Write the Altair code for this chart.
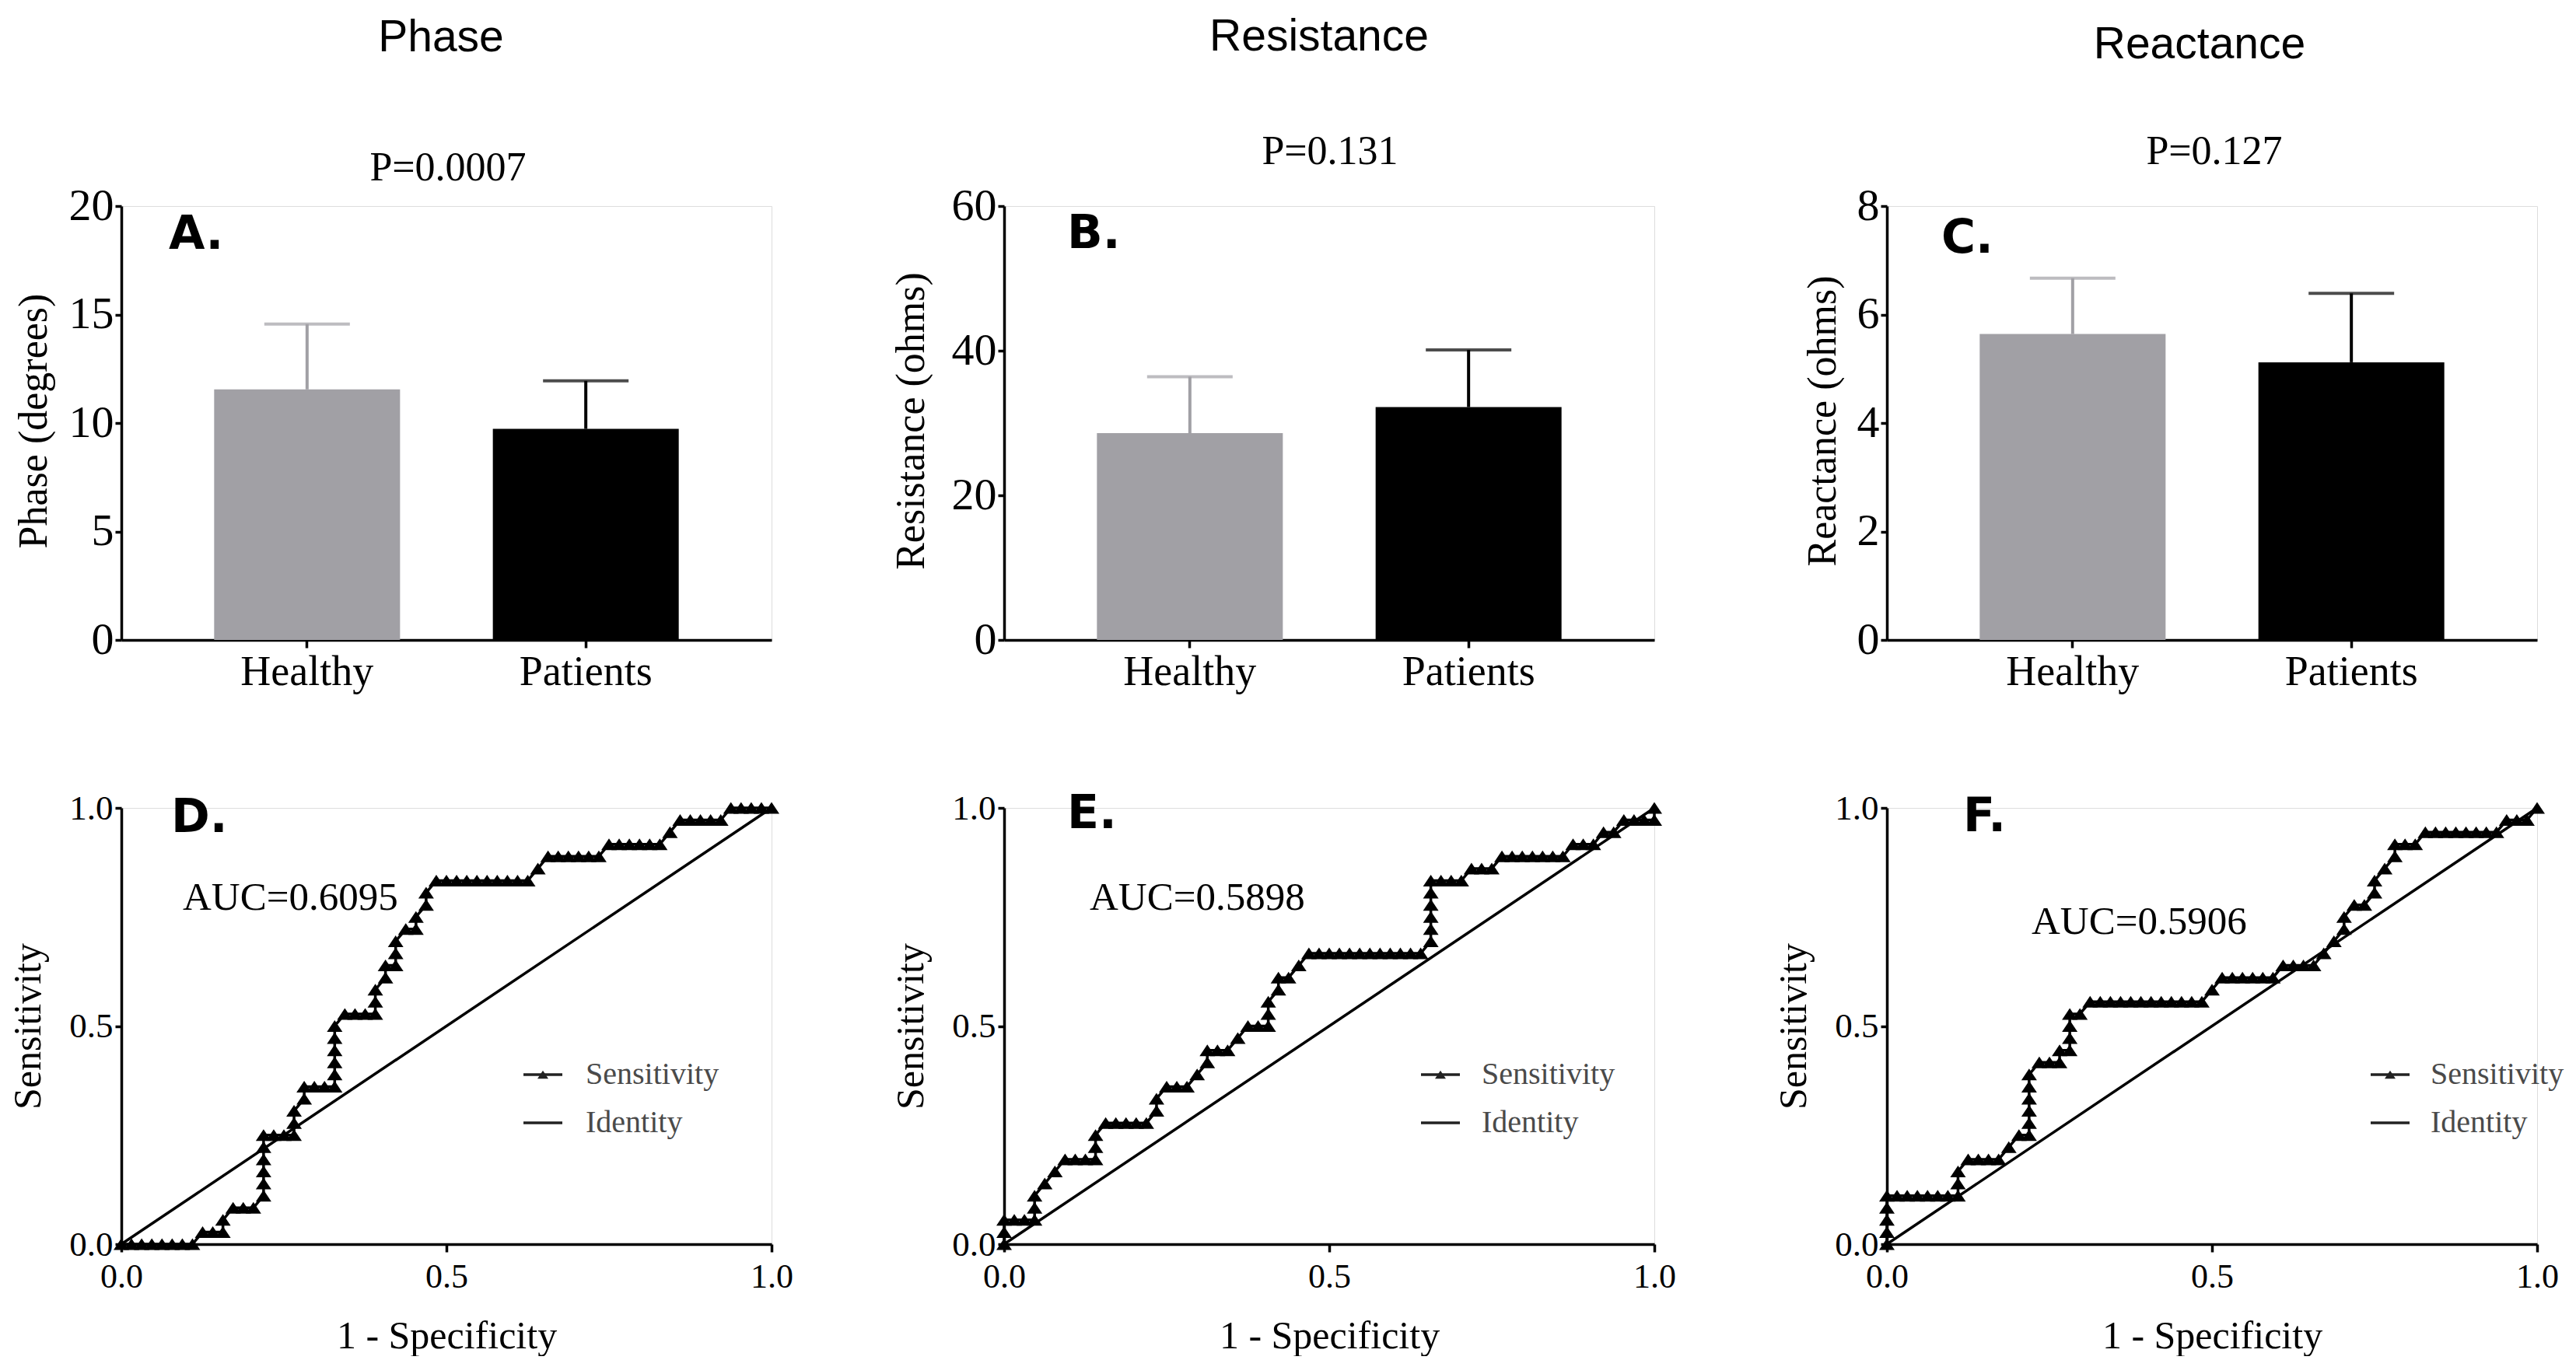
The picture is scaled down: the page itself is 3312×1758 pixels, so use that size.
import altair as alt
import pandas as pd

# ---------------- data ----------------
GROUPS = ["Healthy", "Patients"]
BAR_COLORS = ["#a1a0a5", "#000000"]

PANEL_TITLES = ["Phase", "Resistance", "Reactance"]
P_VALUES = ["P=0.0007", "P=0.131", "P=0.127"]
Y_TITLES = ["Phase (degrees)", "Resistance (ohms)", "Reactance (ohms)"]
Y_MAXES = [20, 60, 8]
Y_TICKS = [[0, 5, 10, 15, 20], [0, 20, 40, 60], [0, 2, 4, 6, 8]]
TOP_LETTERS = ["A.", "B.", "C."]

PHASE_MEAN = [11.55, 9.73]
PHASE_SD = [3.01, 2.21]
RESIST_MEAN = [28.6, 32.2]
RESIST_SD = [7.8, 7.9]
REACT_MEAN = [5.64, 5.12]
REACT_SD = [1.03, 1.27]

# ROC points as (false positives, true positives) counts
N_HEALTHY = 64
N_PATIENTS = 36
ROC_D = [(0, 0), (1, 0), (2, 0), (3, 0), (4, 0), (5, 0), (6, 0), (7, 0),
         (8, 1), (9, 1), (10, 1), (10, 2), (11, 3), (12, 3), (13, 3),
         (14, 4), (14, 5), (14, 6), (14, 7), (14, 8), (14, 9),
         (15, 9), (16, 9), (17, 9),
         (17, 10), (17, 11), (18, 12), (18, 13), (19, 13), (20, 13), (21, 13),
         (21, 14), (21, 15), (21, 16), (21, 17), (21, 18), (22, 19), (23, 19), (24, 19), (25, 19),
         (25, 20), (25, 21), (26, 22), (26, 23), (27, 23),
         (27, 24), (27, 25), (28, 26), (29, 26),
         (29, 27), (30, 28), (30, 29), (31, 30), (32, 30), (33, 30), (34, 30), (35, 30),
         (36, 30), (37, 30), (38, 30), (39, 30), (40, 30),
         (41, 31), (42, 32), (43, 32), (44, 32), (45, 32), (46, 32), (47, 32),
         (48, 33), (49, 33), (50, 33), (51, 33), (52, 33), (53, 33),
         (54, 34), (55, 35), (56, 35), (57, 35), (58, 35), (59, 35),
         (60, 36), (61, 36), (62, 36), (63, 36), (64, 36)]
ROC_E = [(0, 0), (0, 1), (0, 2), (1, 2), (2, 2), (3, 2),
         (3, 3), (3, 4), (4, 5), (5, 6), (6, 7), (7, 7), (8, 7), (9, 7),
         (9, 8), (9, 9), (10, 10), (11, 10), (12, 10), (13, 10), (14, 10),
         (15, 11), (15, 12), (16, 13), (17, 13), (18, 13),
         (19, 14), (20, 15), (20, 16), (21, 16), (22, 16),
         (23, 17), (24, 18), (25, 18), (26, 18),
         (26, 19), (26, 20), (27, 21), (27, 22), (28, 22), (29, 23),
         (30, 24), (31, 24), (32, 24), (33, 24), (34, 24), (35, 24), (36, 24), (37, 24),
         (38, 24), (39, 24), (40, 24), (41, 24),
         (42, 25), (42, 26), (42, 27), (42, 28), (42, 29), (42, 30), (43, 30), (44, 30), (45, 30),
         (46, 31), (47, 31), (48, 31),
         (49, 32), (50, 32), (51, 32), (52, 32), (53, 32), (54, 32), (55, 32),
         (56, 33), (57, 33), (58, 33),
         (59, 34), (60, 34),
         (61, 35), (62, 35), (63, 35), (64, 35), (64, 36)]
ROC_F = [(0, 0), (0, 1), (0, 2), (0, 3), (0, 4),
         (1, 4), (2, 4), (3, 4), (4, 4), (5, 4), (6, 4), (7, 4),
         (7, 5), (7, 6), (8, 7), (9, 7), (10, 7), (11, 7),
         (12, 8), (13, 9), (14, 9),
         (14, 10), (14, 11), (14, 12), (14, 13), (14, 14), (15, 15), (16, 15), (17, 15),
         (17, 16), (18, 16),
         (18, 17), (18, 18), (18, 19), (19, 19),
         (20, 20), (21, 20), (22, 20), (23, 20), (24, 20), (25, 20), (26, 20), (27, 20),
         (28, 20), (29, 20), (30, 20), (31, 20),
         (32, 21), (33, 22), (34, 22), (35, 22), (36, 22), (37, 22), (38, 22),
         (39, 23), (40, 23), (41, 23), (42, 23),
         (43, 24), (44, 25), (45, 26), (45, 27), (46, 28), (47, 28), (48, 29), (48, 30),
         (49, 31), (50, 32), (50, 33), (51, 33), (52, 33),
         (53, 34), (54, 34), (55, 34), (56, 34), (57, 34), (58, 34), (59, 34), (60, 34),
         (61, 35), (62, 35), (63, 35), (64, 36)]
IDENTITY = [0.0, 1.0]
AUC_LABELS = ["AUC=0.6095", "AUC=0.5898", "AUC=0.5906"]
BOTTOM_LETTERS = ["D.", "E.", "F."]
LEGEND_LABELS = ["Sensitivity", "Identity"]

# ---------------- styles / layout ----------------
W = 836
H_TOP = 558
H_BOT = 561
SERIF = "Liberation Serif"
SANS = "Liberation Sans"
BOLD = "DejaVu Sans"
TRI = "M0,-0.75L1,0.75L-1,0.75Z"

TOP_LAYOUT = [
    dict(title_x=411, title_y=-199, p_x=420, p_y=-33, letter_x=61, letter_y=55, ytitle_x=-113),
    dict(title_x=405, title_y=-200, p_x=419, p_y=-54, letter_x=81, letter_y=54, ytitle_x=-120),
    dict(title_x=402, title_y=-190, p_x=421, p_y=-54, letter_x=70, letter_y=60, ytitle_x=-83),
]
BOTTOM_LAYOUT = [
    dict(letter_x=64, letter_y=31, auc_x=79, auc_y=131, leg_x=517, text_x=597),
    dict(letter_x=81, letter_y=26, auc_x=110, auc_y=131, leg_x=536, text_x=614),
    dict(letter_x=98, letter_y=30, auc_x=186, auc_y=162, leg_x=622, text_x=699),
]
LEG_ROWS = [343, 405]


def text_layer(text, x, y, font, size, weight="normal", align="left",
               baseline="alphabetic", color="black"):
    return alt.Chart(pd.DataFrame({"t": [text]})).mark_text(
        font=font, fontSize=size, fontWeight=weight, align=align,
        baseline=baseline, color=color
    ).encode(text="t:N", x=alt.value(x), y=alt.value(y))


def bar_panel(i, means, sds):
    lay = TOP_LAYOUT[i]
    df = pd.DataFrame({
        "group": GROUPS,
        "mean": means,
        "upper": [m + s for m, s in zip(means, sds)],
        "color": BAR_COLORS,
    })
    xenc = alt.X("group:N", sort=GROUPS,
                 scale=alt.Scale(paddingInner=0.333, paddingOuter=0.333),
                 axis=alt.Axis(title=None, labelAngle=0, labelFont=SERIF,
                               labelFontSize=54, tickSize=10, labelPadding=4))
    yscale = alt.Scale(domain=[0, Y_MAXES[i]], nice=False)
    yaxis = alt.Axis(values=Y_TICKS[i], format="d", title=Y_TITLES[i], labelFont=SERIF,
                     labelFontSize=58, tickSize=8, labelPadding=2,
                     titleFont=SERIF, titleFontSize=52, titleFontWeight="normal",
                     titleX=lay["ytitle_x"], titleY=H_TOP / 2 - 3, titleAngle=270,
                     titleBaseline="middle", titleAlign="center")
    base = alt.Chart(df)
    bars = base.mark_bar().encode(
        x=xenc, y=alt.Y("mean:Q", scale=yscale, axis=yaxis),
        color=alt.Color("color:N", scale=None))
    err = base.mark_rule(strokeWidth=4).encode(
        x=alt.X("group:N", sort=GROUPS), y="mean:Q", y2="upper:Q",
        color=alt.Color("color:N", scale=None))
    cap = base.mark_tick(orient="horizontal", size=110, thickness=4).encode(
        x=alt.X("group:N", sort=GROUPS), y="upper:Q",
        color=alt.Color("color:N", scale=None))
    title = text_layer(PANEL_TITLES[i], lay["title_x"], lay["title_y"], SANS, 57, align="center")
    pval = text_layer(P_VALUES[i], lay["p_x"], lay["p_y"], SERIF, 52, align="center")
    letter = text_layer(TOP_LETTERS[i], lay["letter_x"], lay["letter_y"], BOLD, 60, weight="bold")
    return alt.layer(bars, err, cap, title, pval, letter).properties(width=W, height=H_TOP)


def roc_panel(i, points):
    lay = BOTTOM_LAYOUT[i]
    df = pd.DataFrame(points, columns=["fp", "tp"])
    df["fpr"] = df["fp"] / N_HEALTHY
    df["tpr"] = df["tp"] / N_PATIENTS
    df["order"] = range(len(df))
    xaxis = alt.Axis(values=[0, 0.5, 1], format=".1f", title="1 - Specificity",
                     labelFont=SERIF, labelFontSize=44, tickSize=10, labelPadding=10,
                     labelFlush=False, labelOverlap=False,
                     titleFont=SERIF, titleFontSize=50, titleFontWeight="normal",
                     titleX=W / 2, titleY=133, titleBaseline="alphabetic", titleAlign="center")
    yaxis = alt.Axis(values=[0, 0.5, 1], format=".1f", title="Sensitivity",
                     labelFont=SERIF, labelFontSize=45, tickSize=8, labelPadding=3,
                     labelFlush=False, labelOverlap=False,
                     titleFont=SERIF, titleFontSize=50, titleFontWeight="normal",
                     titleX=-120, titleY=H_BOT / 2, titleAngle=270,
                     titleBaseline="middle", titleAlign="center")
    sc = alt.Scale(domain=[0, 1], nice=False)
    ident_df = pd.DataFrame({"fpr": IDENTITY, "tpr": IDENTITY})
    ident = alt.Chart(ident_df).mark_line(color="black", strokeWidth=3.5).encode(
        x=alt.X("fpr:Q", scale=sc, axis=xaxis), y=alt.Y("tpr:Q", scale=sc, axis=yaxis))
    base = alt.Chart(df)
    line = base.mark_line(color="black", strokeWidth=3.5).encode(
        x="fpr:Q", y="tpr:Q", order="order:Q")
    pts = base.mark_point(shape=TRI, filled=True, size=400, color="black", opacity=1).encode(
        x="fpr:Q", y="tpr:Q")
    letter = text_layer(BOTTOM_LETTERS[i], lay["letter_x"], lay["letter_y"], BOLD, 60, weight="bold")
    auc = text_layer(AUC_LABELS[i], lay["auc_x"], lay["auc_y"], SERIF, 51)
    one = pd.DataFrame({"a": [0]})
    lx = lay["leg_x"]
    leg_rules = [
        alt.Chart(one).mark_rule(strokeWidth=3.5, color="#222222").encode(
            x=alt.value(lx), x2=alt.value(lx + 50), y=alt.value(yy))
        for yy in LEG_ROWS
    ]
    leg_tri = alt.Chart(one).mark_point(shape=TRI, filled=True, size=196, color="#222222",
                                        opacity=1).encode(
        x=alt.value(lx + 25), y=alt.value(LEG_ROWS[0]))
    leg_texts = [text_layer(lbl, lay["text_x"], yy, SERIF, 40, baseline="middle", color="#4a4a4a")
                 for lbl, yy in zip(LEGEND_LABELS, LEG_ROWS)]
    return alt.layer(ident, line, pts, letter, auc, *leg_rules, leg_tri, *leg_texts).properties(
        width=W, height=H_BOT)


panels = [
    bar_panel(0, PHASE_MEAN, PHASE_SD),
    bar_panel(1, RESIST_MEAN, RESIST_SD),
    bar_panel(2, REACT_MEAN, REACT_SD),
    roc_panel(0, ROC_D),
    roc_panel(1, ROC_E),
    roc_panel(2, ROC_F),
]

chart = alt.concat(*panels, columns=3, spacing={"row": 216, "column": 299}, bounds="flush").properties(
    padding={"left": 2, "top": 10, "right": 0, "bottom": 0}
).configure_view(stroke=None).configure(background="white").configure_axis(
    grid=False, domainColor="black", domainWidth=3.5, tickColor="black", tickWidth=3.5,
    labelColor="black", titleColor="black"
)

chart.save("out.html", embed_options={"renderer": "svg", "actions": False})
